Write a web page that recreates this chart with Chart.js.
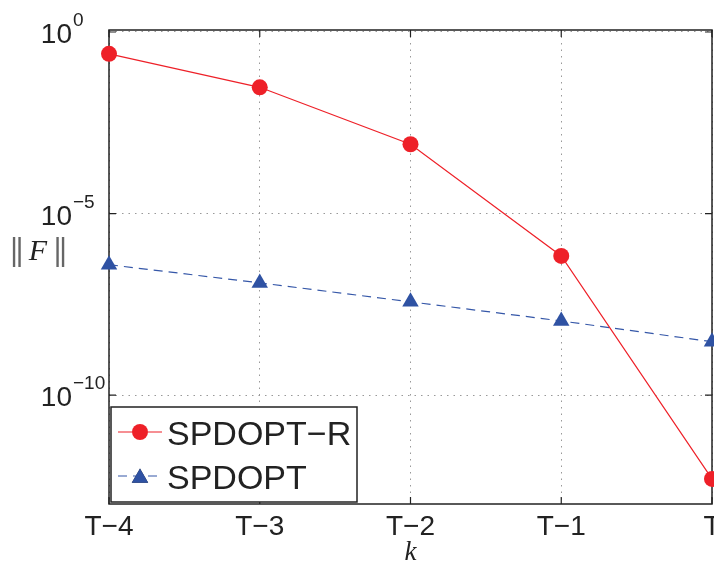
<!DOCTYPE html>
<html>
<head>
<meta charset="utf-8">
<script src="https://cdn.jsdelivr.net/npm/chart.js@4/dist/chart.umd.min.js"></script>
<style>
  body { margin: 0; background: #fff; }
  #wrap { width: 714px; height: 563px; position: relative; }
</style>
</head>
<body>
<div id="wrap"><canvas id="normChart"></canvas></div>
<script>
// values (log axis)
const categories = ['T\u22124', 'T\u22123', 'T\u22122', 'T\u22121', 'T'];
const spdoptR = [2.5e-1, 3.0e-2, 8.1e-4, 6.8e-7, 4.9e-13];
const spdopt = [3.9e-7, 1.23e-7, 3.7e-8, 1.1e-8, 2.95e-9];
const yTickExps = [0, -5, -10];
const seriesNames = ['SPDOPT\u2212R', 'SPDOPT'];

const TEXT = '#222';
const SANS = '"Liberation Sans", Arial, Helvetica, sans-serif';
const SERIF = '"Liberation Serif", "Times New Roman", serif';

// frame, inward ticks, tick labels, axis titles, legend
const framePlugin = {
    id: 'frame',
    beforeDatasetsDraw(chart) {
        const ctx = chart.ctx;
        const a = chart.chartArea;
        const xs = chart.scales.x, ys = chart.scales.y;
        ctx.save();
        ctx.strokeStyle = TEXT;
        ctx.lineWidth = 1.5;
        ctx.strokeRect(a.left, a.top, a.right - a.left, a.bottom - a.top);
        ctx.lineWidth = 1.2;
        ctx.beginPath();
        yTickExps.forEach(e => {
            const y = ys.getPixelForValue(Math.pow(10, e));
            ctx.moveTo(a.left, y); ctx.lineTo(a.left + 7, y);
            ctx.moveTo(a.right, y); ctx.lineTo(a.right - 7, y);
        });
        categories.forEach((c, i) => {
            const x = xs.getPixelForTick(i);
            ctx.moveTo(x, a.bottom); ctx.lineTo(x, a.bottom - 7);
            ctx.moveTo(x, a.top); ctx.lineTo(x, a.top + 7);
        });
        ctx.stroke();
        ctx.restore();
    },
    afterDraw(chart) {
        const ctx = chart.ctx;
        const a = chart.chartArea;
        const xs = chart.scales.x, ys = chart.scales.y;
        ctx.save();
        ctx.fillStyle = TEXT;
        ctx.textBaseline = 'alphabetic';

        // y tick labels 10^e
        yTickExps.forEach(e => {
            const y = ys.getPixelForValue(Math.pow(10, e));
            ctx.font = '28px ' + SANS;
            ctx.textAlign = 'right';
            ctx.fillText('10', 72, y + 11);
            ctx.font = '19px ' + SANS;
            ctx.textAlign = 'left';
            ctx.fillText(String(e).replace('-', '\u2212'), 73, y - 6);
        });

        // x tick labels
        ctx.font = '28px ' + SANS;
        ctx.textAlign = 'center';
        categories.forEach((c, i) => {
            ctx.fillText(c, xs.getPixelForTick(i), a.bottom + 31);
        });

        // axis titles
        ctx.font = 'italic 27px ' + SERIF;
        ctx.fillText('k', (a.left + a.right) / 2, 560);

        ctx.fillStyle = '#666';
        ctx.font = '30px "DejaVu Serif", serif';
        ctx.textAlign = 'center';
        [14, 19.5, 57.5, 63].forEach(x => ctx.fillText('|', x, 260));
        ctx.fillStyle = TEXT;
        ctx.font = 'italic 30px ' + SERIF;
        ctx.fillText('F', 38, 260);

        // legend box
        const lx = 111, ly = 407, lw = 246, lh = 95;
        ctx.fillStyle = '#fff';
        ctx.fillRect(lx, ly, lw, lh);
        ctx.strokeStyle = TEXT;
        ctx.lineWidth = 1.5;
        ctx.strokeRect(lx, ly, lw, lh);

        const rows = [432, 476];
        chart.data.datasets.forEach((ds, i) => {
            const y = rows[i];
            ctx.strokeStyle = ds.borderColor;
            ctx.lineWidth = ds.borderWidth;
            ctx.setLineDash(ds.borderDash || []);
            ctx.beginPath();
            ctx.moveTo(118, y); ctx.lineTo(162, y);
            ctx.stroke();
            ctx.setLineDash([]);
            Chart.helpers.drawPoint(ctx, {
                pointStyle: ds.pointStyle,
                radius: ds.pointRadius,
                borderWidth: 0
            }, 140, ds.pointStyle === 'triangle' ? y + 2 : y);
            ctx.fillStyle = ds.pointBackgroundColor;
            ctx.fill();
            ctx.fillStyle = TEXT;
            ctx.font = '34px ' + SANS;
            ctx.textAlign = 'left';
            ctx.fillText(ds.label, 167, y + 13);
        });
        ctx.restore();
    }
};

const ctx = document.getElementById('normChart').getContext('2d');
const normChart = new Chart(ctx, {
    type: 'line',
    data: {
        labels: categories,
        datasets: [{
            label: seriesNames[0],
            data: spdoptR,
            borderColor: '#ee2028',
            backgroundColor: '#ee2028',
            borderWidth: 1.2,
            pointStyle: 'circle',
            pointRadius: 8,
            pointBorderWidth: 0,
            pointBackgroundColor: '#ee2028',
            tension: 0,
            clip: false
        }, {
            label: seriesNames[1],
            data: spdopt,
            borderColor: '#3557a8',
            backgroundColor: '#2f52a3',
            borderWidth: 1.2,
            borderDash: [9, 6],
            pointStyle: 'triangle',
            pointRadius: 9.5,
            pointBorderWidth: 0,
            pointBackgroundColor: '#2f52a3',
            tension: 0,
            clip: false
        }]
    },
    options: {
        responsive: true,
        maintainAspectRatio: false,
        animation: false,
        layout: {
            autoPadding: false,
            padding: { top: 30, right: 2, left: 0, bottom: 0 }
        },
        plugins: {
            legend: { display: false },
            tooltip: { enabled: false }
        },
        scales: {
            x: {
                type: 'category',
                offset: false,
                grid: {
                    color: '#999',
                    lineWidth: 1,
                    drawTicks: false
                },
                border: { display: false, dash: [1.5, 5] },
                ticks: { display: false },
                afterFit: function(scale) { scale.height = 59; }
            },
            y: {
                type: 'logarithmic',
                min: 1e-13,
                max: Math.pow(10, 0.055),
                grid: {
                    color: '#999',
                    lineWidth: 1,
                    drawTicks: false
                },
                border: { display: false, dash: [1.5, 5] },
                ticks: { display: false },
                afterBuildTicks: function(scale) {
                    scale.ticks = yTickExps.map(e => ({ value: Math.pow(10, e) }));
                },
                afterFit: function(scale) { scale.width = 109; }
            }
        }
    },
    plugins: [framePlugin]
});
</script>
</body>
</html>
